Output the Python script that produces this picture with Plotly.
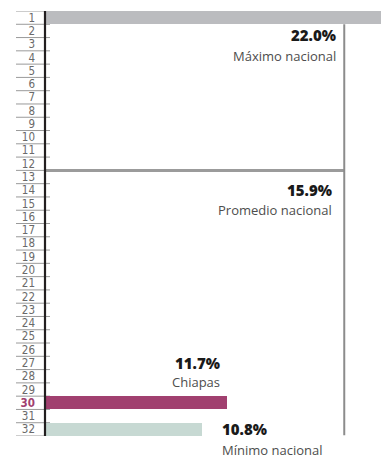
import plotly.graph_objects as go

ranks = list(range(1, 33))
bar_names = ["Máximo nacional", "Chiapas", "Mínimo nacional"]
bar_ranks = [1, 30, 32]
bar_values = [22.0, 11.7, 10.8]
bar_colors = ["#BBBCBF", "#A1406F", "#C7D9D3"]
avg_name = "Promedio nacional"
avg_rank = 13
avg_value = 15.9
highlight_rank = 30

tick_text = [
    f"<b><span style='color:#A1406F'>{r}</span></b>" if r == highlight_rank else str(r)
    for r in ranks
]

fig = go.Figure()
fig.add_trace(go.Bar(
    x=bar_values, y=bar_ranks, orientation="h", width=1.0,
    marker=dict(color=bar_colors, line=dict(width=0)),
    hoverinfo="skip", showlegend=False,
))
# national average drawn as a thin bar at the top of its rank row
fig.add_trace(go.Bar(
    x=[avg_value], y=[avg_rank - 0.5], orientation="h", width=0.23,
    marker=dict(color="#9B9B9B", line=dict(width=0)),
    hoverinfo="skip", showlegend=False,
))

shapes = []
# underlines under rank labels
for b in range(0, 33):
    shapes.append(dict(type="line", xref="paper", yref="y",
                       x0=-0.0843, x1=0.0145, y0=b + 0.5, y1=b + 0.5,
                       line=dict(color="#9A9A9A", width=1), layer="below"))
# vertical reference line at average value
shapes.append(dict(type="line", xref="x", yref="y", x0=avg_value, x1=avg_value,
                   y0=1.5, y1=32.45, line=dict(color="#8C8C8C", width=2)))
# black left axis line
shapes.append(dict(type="line", xref="paper", yref="y", x0=0, x1=0,
                   y0=0.4, y1=32.55, line=dict(color="#231F20", width=2.2)))

num_font = dict(family="Open Sans", size=15, color="#1A1A1A", weight=800)
lab_font = dict(family="Open Sans", size=13, color="#4D4D4D", weight=400)

annotations = [
    dict(x=avg_value, y=2.33, text=f"{bar_values[0]:.1f}%", xanchor="right", yanchor="middle",
         xshift=-6, font=num_font),
    dict(x=avg_value, y=3.9, text=bar_names[0], xanchor="right", yanchor="middle",
         xshift=-6, font=lab_font),
    dict(x=avg_value, y=13.98, text=f"{avg_value:.1f}%", xanchor="right", yanchor="middle",
         xshift=-10, font=num_font),
    dict(x=avg_value, y=15.48, text=avg_name, xanchor="right", yanchor="middle",
         xshift=-10, font=lab_font),
    dict(x=bar_values[1], y=26.99, text=f"{bar_values[1]:.1f}%", xanchor="right", yanchor="middle",
         xshift=-5, font=num_font),
    dict(x=bar_values[1], y=28.42, text=bar_names[1], xanchor="right", yanchor="middle",
         xshift=-5, font=lab_font),
    dict(x=bar_values[2], y=31.95, text=f"{bar_values[2]:.1f}%", xanchor="left", yanchor="middle",
         xshift=18, font=num_font),
    dict(x=bar_values[2], y=31.95, text=bar_names[2], xanchor="left", yanchor="middle",
         xshift=18, yshift=-21, font=lab_font),
]
for a in annotations:
    a.update(xref="x", yref="y", showarrow=False)

# page body has an 8px default margin, so the figure is sized to fill the window
fig.update_layout(
    width=381, height=451,
    margin=dict(l=37, r=0, t=3, b=23),
    paper_bgcolor="white", plot_bgcolor="white",
    bargap=0,
    shapes=shapes,
    annotations=annotations,
    xaxis=dict(range=[5.2, 17.5], visible=False, fixedrange=True),
    yaxis=dict(range=[32.5, 0.5], tickvals=ranks, ticktext=tick_text,
               showgrid=False, zeroline=False, showline=False, ticks="",
               ticklabelstandoff=9, automargin=False,
               tickfont=dict(family="Liberation Sans Narrow, DejaVu Sans Condensed", size=11.5,
                             color="#6A6A6A"),
               fixedrange=True),
    showlegend=False,
)

fig.write_html("out.html")
